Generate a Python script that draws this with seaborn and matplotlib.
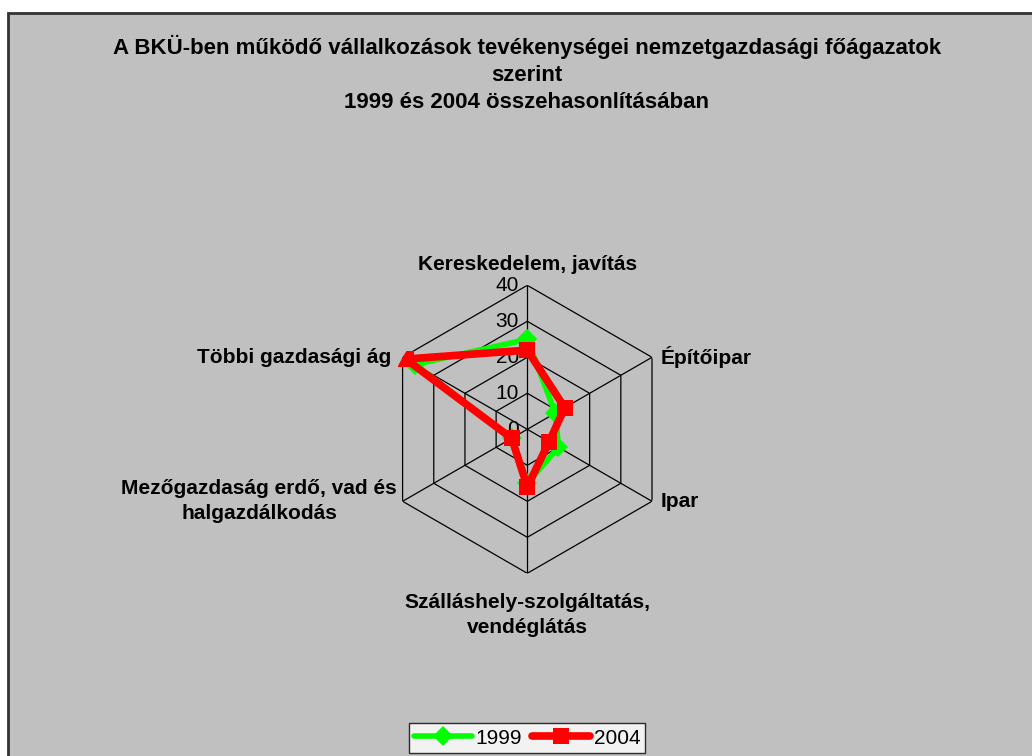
import numpy as np
import pandas as pd
import matplotlib
matplotlib.use('Agg')
import matplotlib.pyplot as plt
import seaborn as sns
from matplotlib.patches import Rectangle

# Data (share of enterprises, %)
categories = ['Kereskedelem, javítás', 'Építőipar', 'Ipar',
              'Szálláshely-szolgáltatás,\nvendéglátás',
              'Mezőgazdaság erdő, vad és\nhalgazdálkodás', 'Többi gazdasági ág']
values_1999 = [25, 9, 10, 15, 5, 36]
values_2004 = [22, 12, 7, 16, 5, 39]
r_ticks = [0, 10, 20, 30, 40]

sns.set_theme(style='white')
plt.rcParams['font.family'] = ['Liberation Sans', 'DejaVu Sans']

n = len(categories)
angles = np.linspace(0, 2 * np.pi, n, endpoint=False)
theta = np.append(angles, 2 * np.pi)

df = pd.DataFrame({
    'theta': np.concatenate([theta, theta]),
    'value': values_1999 + values_1999[:1] + values_2004 + values_2004[:1],
    'year': ['1999'] * (n + 1) + ['2004'] * (n + 1),
})

fig = plt.figure(figsize=(10.32, 7.56), dpi=100, facecolor='white')
fig.patches.append(Rectangle((8 / 1032, -0.1), 1.1, (756 - 13) / 756 + 0.1,
                             transform=fig.transFigure, facecolor='#c0c0c0',
                             edgecolor='#333333', linewidth=2, zorder=-5))

ax = fig.add_axes([383.3 / 1032, (756 - 573.3) / 756, 288 / 1032, 288 / 756],
                  projection='polar')
ax.set_facecolor('none')
ax.set_theta_offset(np.pi / 2)
ax.set_theta_direction(-1)
ax.set_ylim(0, 40)
ax.grid(False)
ax.spines['polar'].set_visible(False)
ax.set_xticks([])
ax.set_yticks([])

# hexagonal grid and spokes
for r in r_ticks[1:]:
    ax.plot(theta, [r] * (n + 1), color='black', lw=0.9, zorder=1)
for a in angles:
    ax.plot([a, a], [0, 40], color='black', lw=0.9, zorder=1)

sub = df[df['year'] == '1999']
sns.lineplot(data=sub, x='theta', y='value', sort=False, ax=ax, color='#00ff00',
             marker='D', markersize=10, linewidth=4, markeredgewidth=0,
             label='1999', zorder=3, estimator=None)
sub = df[df['year'] == '2004']
sns.lineplot(data=sub, x='theta', y='value', sort=False, ax=ax, color='#ff0000',
             marker='s', markersize=11.5, linewidth=5.5, markeredgewidth=0,
             label='2004', zorder=4, estimator=None)
ax.set_xlabel('')
ax.set_ylabel('')
ax.get_legend().remove()

for v in r_ticks:
    ax.annotate(str(v), xy=(0, v), xytext=(-6, 0), textcoords='offset points',
                ha='right', va='center', fontsize=15, color='black')

label_pos = [((0, 8), 'center', 'bottom'), ((6, 0), 'left', 'center'),
             ((6, 0), 'left', 'center'), ((0, -14), 'center', 'top'),
             ((-4, 0), 'right', 'center'), ((-8, 0), 'right', 'center')]
for a, lab, (off, ha, va) in zip(angles, categories, label_pos):
    ax.annotate(lab, xy=(a, 40), xytext=off, textcoords='offset points',
                ha=ha, va=va, fontsize=15, fontweight='bold', color='black',
                multialignment='center', linespacing=1.4)

fig.text(527 / 1032, 1 - 35 / 756,
         'A BKÜ-ben működő vállalkozások tevékenységei nemzetgazdasági főágazatok\n'
         'szerint\n1999 és 2004 összehasonlításában',
         ha='center', va='top', fontsize=16, fontweight='bold', linespacing=1.38,
         color='black')

handles, labels = ax.get_lines()[-2:], ['1999', '2004']
leg = fig.legend(handles, labels, loc='center', bbox_to_anchor=(527 / 1032, 1 - 738 / 756),
                 ncol=2, frameon=True, fancybox=False, fontsize=15, handlelength=2.8,
                 handletextpad=0.15, columnspacing=0.5, borderpad=0.25)
leg.get_frame().set_facecolor('white')
leg.get_frame().set_edgecolor('black')
for t in leg.get_texts():
    t.set_color('black')

fig.savefig('out.png', dpi=100, facecolor='white')
